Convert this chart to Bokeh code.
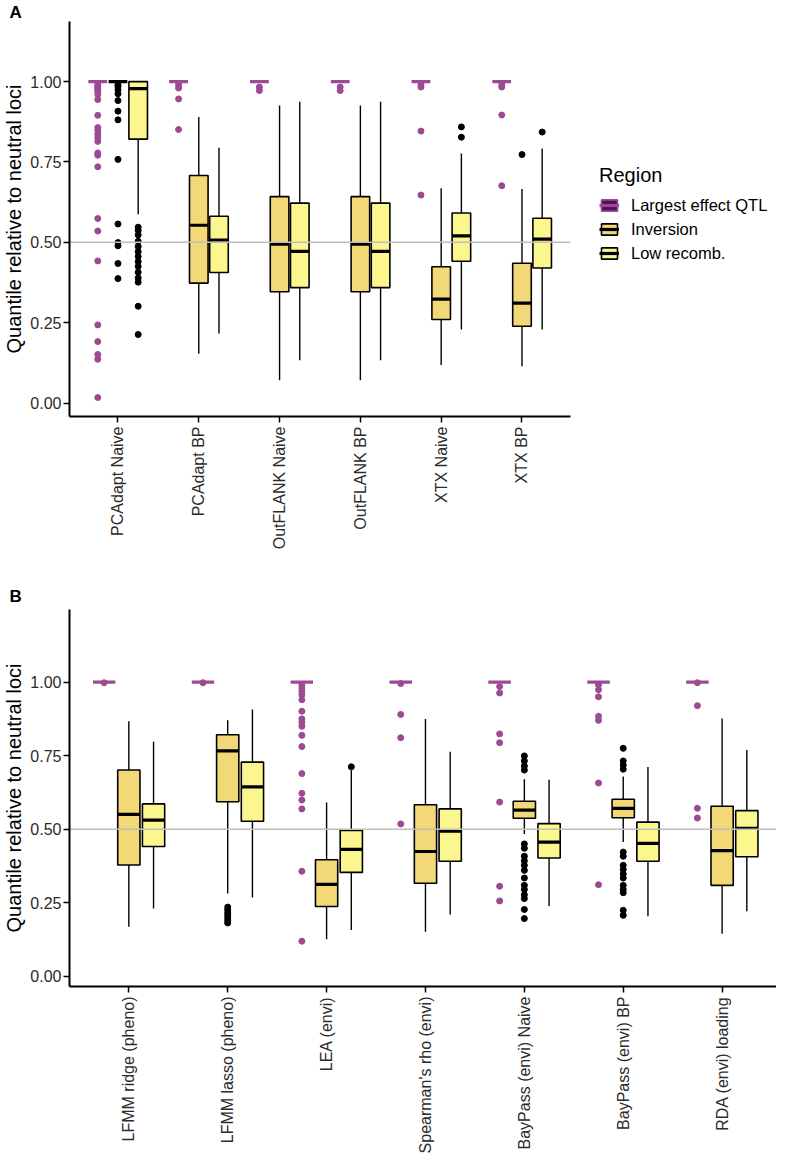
import math
from bokeh.plotting import figure
from bokeh.models import (ColumnDataSource, FixedTicker, NumeralTickFormatter,
                          Legend, LegendItem, Range1d)
from bokeh.layouts import column
from bokeh.embed import file_html
from bokeh.resources import INLINE

# ---------------- data: panel A ----------------
methods_a = ["PCAdapt Naive", "PCAdapt BP", "OutFLANK Naive", "OutFLANK BP", "XTX Naive", "XTX BP"]

qtl_a_low = [1.0, 1.0, 1.0, 1.0, 1.0, 1.0]
qtl_a_q1 = [1.0, 1.0, 1.0, 1.0, 1.0, 1.0]
qtl_a_med = [1.0, 1.0, 1.0, 1.0, 1.0, 1.0]
qtl_a_q3 = [1.0, 1.0, 1.0, 1.0, 1.0, 1.0]
qtl_a_high = [1.0, 1.0, 1.0, 1.0, 1.0, 1.0]
qtl_a_out = [
    [0.99, 0.985, 0.98, 0.975, 0.97, 0.96, 0.944, 0.895, 0.857, 0.848, 0.836, 0.825, 0.814,
     0.778, 0.771, 0.735, 0.574, 0.535, 0.442, 0.243, 0.191, 0.151, 0.136, 0.017],
    [0.99, 0.98, 0.946, 0.851],
    [0.983, 0.972],
    [0.983, 0.972],
    [0.99, 0.983, 0.846, 0.647],
    [0.99, 0.983, 0.896, 0.676],
]

inv_a_low = [1.0, 0.153, 0.071, 0.071, 0.118, 0.114]
inv_a_q1 = [1.0, 0.373, 0.346, 0.346, 0.260, 0.239]
inv_a_med = [1.0, 0.553, 0.494, 0.494, 0.323, 0.311]
inv_a_q3 = [1.0, 0.708, 0.642, 0.642, 0.424, 0.435]
inv_a_high = [1.0, 0.890, 0.926, 0.926, 0.668, 0.666]
inv_a_out = [
    [0.99, 0.985, 0.975, 0.962, 0.941, 0.908, 0.881, 0.758, 0.557, 0.499, 0.489, 0.434, 0.387],
    [], [], [], [],
    [0.773],
]

low_a_low = [0.587, 0.216, 0.133, 0.133, 0.229, 0.229]
low_a_q1 = [0.821, 0.406, 0.359, 0.359, 0.441, 0.420]
low_a_med = [0.978, 0.507, 0.472, 0.472, 0.520, 0.510]
low_a_q3 = [1.0, 0.581, 0.622, 0.622, 0.591, 0.575]
low_a_high = [1.0, 0.794, 0.937, 0.937, 0.776, 0.792]
low_a_out = [
    [0.547, 0.537, 0.523, 0.503, 0.487, 0.471, 0.456, 0.440, 0.425, 0.407, 0.389, 0.376, 0.301, 0.213],
    [], [], [],
    [0.859, 0.827],
    [0.843],
]

# ---------------- data: panel B ----------------
methods_b = ["LFMM ridge (pheno)", "LFMM lasso (pheno)", "LEA (envi)", "Spearman's rho (envi)",
             "BayPass (envi) Naive", "BayPass (envi) BP", "RDA (envi) loading"]

qtl_b_low = [1.0, 1.0, 1.0, 1.0, 1.0, 1.0, 1.0]
qtl_b_q1 = [1.0, 1.0, 1.0, 1.0, 1.0, 1.0, 1.0]
qtl_b_med = [1.0, 1.0, 1.0, 1.0, 1.0, 1.0, 1.0]
qtl_b_q3 = [1.0, 1.0, 1.0, 1.0, 1.0, 1.0, 1.0]
qtl_b_high = [1.0, 1.0, 1.0, 1.0, 1.0, 1.0, 1.0]
qtl_b_out = [
    [0.998],
    [0.998],
    [0.991, 0.980, 0.969, 0.957, 0.940, 0.901, 0.875, 0.864, 0.850, 0.819, 0.781, 0.689,
     0.622, 0.599, 0.569, 0.357, 0.119],
    [0.995, 0.890, 0.811, 0.518],
    [0.985, 0.963, 0.824, 0.794, 0.592, 0.306, 0.256],
    [0.991, 0.974, 0.950, 0.884, 0.870, 0.657, 0.311],
    [0.998, 0.920, 0.571, 0.538],
]

inv_b_low = [0.168, 0.281, 0.126, 0.151, 0.484, 0.456, 0.144]
inv_b_q1 = [0.378, 0.593, 0.237, 0.316, 0.537, 0.539, 0.309]
inv_b_med = [0.550, 0.766, 0.312, 0.424, 0.565, 0.571, 0.427]
inv_b_q3 = [0.701, 0.821, 0.396, 0.583, 0.595, 0.602, 0.578]
inv_b_high = [0.867, 0.870, 0.591, 0.875, 0.670, 0.679, 0.876]
inv_b_out = [
    [],
    [0.235, 0.226, 0.217, 0.208, 0.199, 0.190, 0.181],
    [],
    [],
    [0.749, 0.732, 0.715, 0.701, 0.450, 0.435, 0.408, 0.393, 0.377, 0.360, 0.334, 0.309,
     0.295, 0.277, 0.264, 0.227, 0.196],
    [0.775, 0.732, 0.718, 0.704, 0.422, 0.408, 0.377, 0.363, 0.348, 0.334, 0.309, 0.295,
     0.284, 0.224, 0.207],
    [],
]

low_b_low = [0.230, 0.268, 0.157, 0.210, 0.239, 0.204, 0.221]
low_b_q1 = [0.441, 0.527, 0.353, 0.391, 0.402, 0.391, 0.406]
low_b_med = [0.531, 0.644, 0.431, 0.493, 0.456, 0.452, 0.503]
low_b_q3 = [0.586, 0.728, 0.496, 0.569, 0.519, 0.524, 0.563]
low_b_high = [0.797, 0.907, 0.700, 0.763, 0.668, 0.711, 0.769]
low_b_out = [[], [], [0.712], [], [], [], []]

region_names = ["Largest effect QTL", "Inversion", "Low recomb."]
y_ticks = [0.0, 0.25, 0.5, 0.75, 1.0]
y_title = "Quantile relative to neutral loci"
neutral_level = 0.5

# ---------------- style ----------------
FONT = "Liberation Sans"
QTL_FILL = "#4E1057"
QTL_LINE = "#9C4A93"
INV_FILL = "#F2D877"
LOW_FILL = "#FCF68E"
TICK_COLOR = "#2b2b2b"


def style_axes(p):
    p.xgrid.visible = False
    p.ygrid.visible = False
    p.outline_line_color = None
    p.background_fill_color = "white"
    p.border_fill_color = "white"
    for ax in p.axis:
        ax.axis_line_color = "black"
        ax.axis_line_width = 2
        ax.major_tick_line_color = "black"
        ax.major_tick_line_width = 1.5
        ax.major_tick_out = 6
        ax.major_tick_in = 0
        ax.minor_tick_line_color = None
        ax.major_label_text_font = FONT
        ax.major_label_text_font_size = "16px"
        ax.major_label_text_color = TICK_COLOR
    p.yaxis.ticker = FixedTicker(ticks=y_ticks)
    p.yaxis.formatter = NumeralTickFormatter(format="0.00")
    p.yaxis.major_label_standoff = 2
    p.yaxis.axis_label = y_title
    p.yaxis.axis_label_text_font = FONT
    p.yaxis.axis_label_text_font_size = "20px"
    p.yaxis.axis_label_text_font_style = "normal"
    p.yaxis.axis_label_text_color = "black"
    p.yaxis.axis_label_standoff = 2
    p.xaxis.major_label_standoff = 4
    p.xaxis.major_label_orientation = math.pi / 2


def draw_series(p, n, offset, width, fill, line, low, q1, med, q3, high, outs):
    xs = [i + 1 + offset for i in range(n)]
    src = ColumnDataSource(dict(
        x=xs, low=low, q1=q1, med=med, q3=q3, high=high,
        x0=[x - width / 2 for x in xs], x1=[x + width / 2 for x in xs]))
    p.segment(x0="x", y0="low", x1="x", y1="q1", source=src, line_color=line, line_width=1.4)
    p.segment(x0="x", y0="q3", x1="x", y1="high", source=src, line_color=line, line_width=1.4)
    box = p.vbar(x="x", width=width, top="q3", bottom="q1", source=src,
                 fill_color=fill, line_color=line, line_width=1.6)
    medr = p.segment(x0="x0", y0="med", x1="x1", y1="med", source=src,
                     line_color=line, line_width=3.2)
    ox, oy = [], []
    for i, vals in enumerate(outs):
        for v in vals:
            ox.append(xs[i])
            oy.append(v)
    return box, medr, (ox, oy, line)


def build_panel(methods, series, width, height, border_bottom, x_end, y_start, y_end,
                box_w, letter, letter_standoff):
    n = len(methods)
    axis_end = n + 0.6
    p = figure(width=width, height=height, output_backend="svg", toolbar_location=None,
               x_range=Range1d(0.4, x_end), y_range=Range1d(y_start, y_end),
               min_border_left=59, min_border_right=0,
               min_border_top=0, min_border_bottom=border_bottom,
               frame_align=False, title=letter)
    p.title.text_font = FONT
    p.title.text_font_size = "17px"
    p.title.text_font_style = "bold"
    p.title.text_color = "black"
    p.title.align = "left"
    p.title.offset = -60
    p.title.standoff = letter_standoff
    style_axes(p)
    p.xaxis.ticker = FixedTicker(ticks=list(range(1, n + 1)))
    p.xaxis.major_label_overrides = {i + 1: m for i, m in enumerate(methods)}
    p.xaxis.bounds = (0.4, axis_end)

    offsets = [-0.25, 0.0, 0.25]
    handles = []
    points = []
    for (off, s) in zip(offsets, series):
        fill, line, low, q1, med, q3, high, outs = s
        box, medr, pts = draw_series(p, n, off, box_w, fill, line, low, q1, med, q3, high, outs)
        handles.append((box, medr))
        points.append(pts)
    for ox, oy, col in points:
        p.scatter(ox, oy, size=6, color=col, line_color=col)

    # neutral reference line, drawn across the panel's axis extent
    p.segment(x0=[0.4], y0=[neutral_level], x1=[axis_end], y1=[neutral_level],
              line_color="#BEBEBE", line_width=1.5)
    return p, handles


series_a = [
    (QTL_FILL, QTL_LINE, qtl_a_low, qtl_a_q1, qtl_a_med, qtl_a_q3, qtl_a_high, qtl_a_out),
    (INV_FILL, "black", inv_a_low, inv_a_q1, inv_a_med, inv_a_q3, inv_a_high, inv_a_out),
    (LOW_FILL, "black", low_a_low, low_a_q1, low_a_med, low_a_q3, low_a_high, low_a_out),
]
series_b = [
    (QTL_FILL, QTL_LINE, qtl_b_low, qtl_b_q1, qtl_b_med, qtl_b_q3, qtl_b_high, qtl_b_out),
    (INV_FILL, "black", inv_b_low, inv_b_q1, inv_b_med, inv_b_q3, inv_b_high, inv_b_out),
    (LOW_FILL, "black", low_b_low, low_b_q1, low_b_med, low_b_q3, low_b_high, low_b_out),
]

pa, handles_a = build_panel(methods_a, series_a, width=776, height=580, border_bottom=164,
                            x_end=9.15, y_start=-0.042, y_end=1.187, box_w=0.23,
                            letter="A", letter_standoff=0)
pb, handles_b = build_panel(methods_b, series_b, width=776, height=576, border_bottom=168,
                            x_end=7.55, y_start=-0.035, y_end=1.247, box_w=0.225,
                            letter="B", letter_standoff=8)

legend = Legend(
    items=[LegendItem(label=region_names[i], renderers=list(handles_a[i])) for i in range(3)],
    location=(530, 153), title="Region")
legend.title_text_font = FONT
legend.title_text_font_size = "20px"
legend.title_text_font_style = "normal"
legend.title_text_color = "black"
legend.title_standoff = 8
legend.label_text_font = FONT
legend.label_text_font_size = "16.5px"
legend.label_text_color = "black"
legend.glyph_width = 20
legend.glyph_height = 14
legend.label_height = 20
legend.label_standoff = 12
legend.spacing = 4
legend.padding = 0
legend.margin = 0
legend.border_line_color = None
legend.background_fill_alpha = 0
pa.add_layout(legend)

layout = column(pa, pb, spacing=0)
open("out.html", "w").write(file_html(layout, INLINE))
